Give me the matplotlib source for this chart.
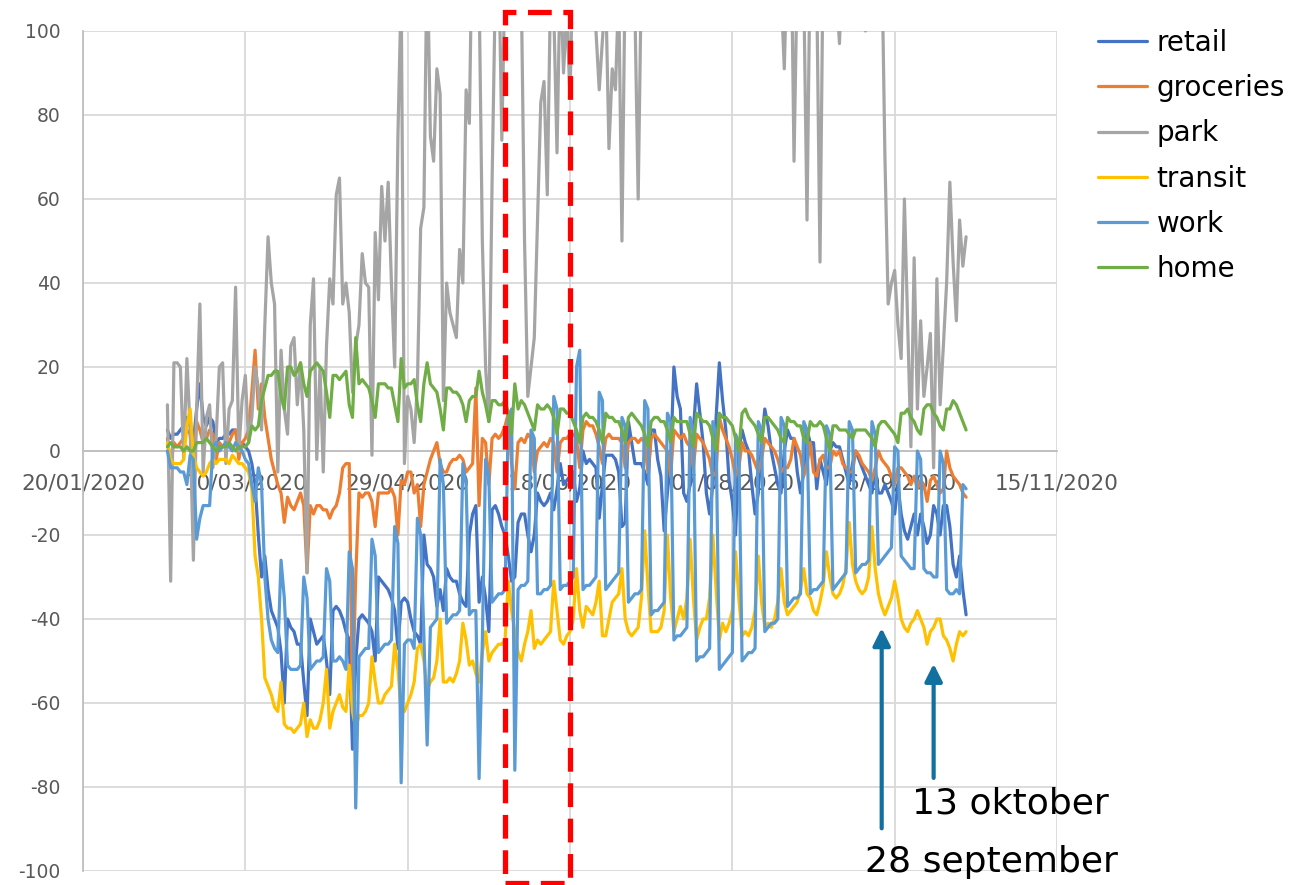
import matplotlib
matplotlib.use("Agg")
import matplotlib.pyplot as plt
import matplotlib.dates as mdates
from matplotlib.patches import Rectangle, FancyArrowPatch
import numpy as np

plt.rcParams["axes.unicode_minus"] = False

# daily values, 15/02/2020 .. 18/10/2020 (first two days, then one row per week Mon..Sun)
dates = np.arange(np.datetime64("2020-02-15"), np.datetime64("2020-10-19")).astype("datetime64[D]").astype(object)

retail = [5, 3,
    4, 4, 5, 6, 8, 6, 2,
    10, 16, 8, 6, 8, 7, 2,
    3, 3, 4, 4, 5, 5, 1,
    2, 1, 0, -3, -8, -20, -30,
    -25, -33, -38, -40, -42, -48, -60,
    -40, -42, -43, -46, -46, -55, -63,
    -40, -43, -46, -45, -44, -50, -58,
    -38, -37, -38, -40, -43, -45, -71,
    -50, -40, -39, -40, -41, -43, -50,
    -30, -31, -32, -33, -35, -38, -47,
    -36, -35, -36, -40, -43, -44, -46,
    -20, -27, -28, -30, -37, -33, -38,
    -28, -30, -31, -31, -34, -36, -37,
    -20, -15, -13, -36, -30, -35, -43,
    -14, -13, -15, -18, -20, -25, -31,
    -30, -17, -15, -15, -20, -24, -20,
    -10, -12, -13, -12, -10, -14, -9,
    -3, -8, -7, -6, -5, -12, -9,
    0, -3, -2, -3, -4, -16, -8,
    -1, -1, -1, -2, -5, -18, -17,
    7, 2, -3, -3, -3, -5, -8,
    5, 5, -2, -6, -19, -10, -2,
    20, 13, 10, -10, -12, -8, 5,
    16, 9, 2, -10, -15, -8, 8,
    21, 12, 5, -7, -12, -20, 0,
    5, 2, 0, -8, -15, -10, 2,
    10, 6, 0, -4, -8, -10, 0,
    5, 3, 3, -5, -10, -5, 5,
    2, 2, -9, -2, -5, -8, 0,
    2, 1, 1, -2, -5, -8, -3,
    0, -2, -4, -6, -8, -10, -5,
    -10, -10, -8, -10, -12, -15, -8,
    -15, -19, -21, -18, -15, -20, -15,
    -18, -22, -20, -13, -15, -20, -13,
    -13, -18, -27, -30, -25, -33, -39]

groceries = [3, -3,
    2, 1, 2, 3, 5, 4, -3,
    7, 5, 2, 3, 5, 4, -2,
    2, 1, 2, 2, 4, 5, -2,
    2, 3, 5, 14, 24, 10, 16,
    8, 3, -2, -5, -8, -10, -17,
    -11, -13, -14, -12, -10, -13, -29,
    -13, -15, -13, -13, -14, -14, -16,
    -14, -13, -10, -4, -3, -3, -60,
    -30, -10, -11, -10, -10, -12, -18,
    -10, -10, -10, -10, -9, -11, -20,
    -7, -8, -5, -5, -10, -8, -18,
    -8, -5, -2, 0, 2, -3, -5,
    -5, -3, -2, -2, -1, -2, -5,
    -4, -3, 15, -13, 3, 2, -8,
    3, 4, 3, 4, 6, 9, -3,
    -9, 2, 3, 2, 4, 3, -5,
    0, 1, 2, 1, 3, 2, -5,
    2, 3, 3, 4, 4, 3, -4,
    5, 7, 6, 6, 4, 1, -3,
    3, 4, 3, 3, 3, 2, -4,
    2, 3, 3, 2, 3, 2, -5,
    3, 4, 3, 2, 1, 0, -6,
    5, 4, 3, 4, 2, 1, -4,
    4, 3, 2, 0, -2, -6, -5,
    8, 5, 3, 1, -2, -6, -4,
    2, 0, 0, -1, -3, -5, -2,
    3, 2, 1, 0, -2, -5, -4,
    -4, -2, 3, 1, -1, -6, -3,
    2, -5, -6, -2, -1, -4, -4,
    0, -1, 0, -3, -4, -5, -5,
    0, -1, -3, -4, -5, -7, -4,
    0, -2, -3, -4, -6, -8, -4,
    -4, -5, -6, -8, -6, -9, -7,
    -8, -12, -7, -6, -8, -10, -9,
    0, -4, -6, -7, -8, -10, -11]

park = [11, -31,
    21, 21, 20, -2, 22, 5, -26,
    10, 35, -5, 8, 11, -4, 3,
    20, 21, -3, 10, 12, 39, 0,
    12, 18, 2, 8, 20, 15, 5,
    30, 51, 40, 35, -5, 24, 10,
    4, 25, 27, 11, 21, 5, -29,
    30, 41, -2, 20, -5, 25, 41,
    35, 61, 65, 35, 40, 33, 14,
    25, 30, 47, 40, 39, -1, 52,
    36, 63, 50, 64, 40, 20, 75,
    110, -3, 13, 10, 2, 16, 53,
    58, 120, 75, 69, 91, 85, 12,
    40, 33, 30, 27, 48, 40, 86,
    78, 130, 120, 110, 50, 20, 7,
    64, 110, 120, 74, 115, 130, 150,
    140, 125, 110, 50, 13, 20, 27,
    55, 83, 88, 61, 110, 105, 71,
    115, 90, 105, 84, 120, 140, 160,
    150, 130, 120, 110, 100, 86, 98,
    110, 72, 91, 86, 110, 50, 115,
    120, 110, 105, 60, 115, 130, 150,
    160, 140, 130, 170, 180, 150, 140,
    130, 150, 170, 190, 160, 140, 120,
    140, 170, 180, 200, 160, 150, 130,
    150, 170, 190, 160, 140, 130, 150,
    170, 190, 160, 140, 130, 150, 140,
    140, 160, 150, 130, 120, 110, 91,
    120, 130, 69, 115, 125, 110, 55,
    120, 130, 110, 45, 120, 140, 130,
    120, 110, 97, 120, 140, 130, 120,
    110, 130, 115, 100, 120, 140, 130,
    110, 120, 70, 35, 40, 43, 30,
    22, 60, 30, 1, 46, 10, 31,
    13, 20, 28, -4, 41, 11, 25,
    40, 64, 45, 31, 55, 44, 51]

transit = [2, -2,
    -3, -3, -3, -2, 6, 10, -1,
    -4, -5, -6, -5, -3, -2, -3,
    -2, -2, -2, -3, -1, -2, -3,
    -3, -4, -5, -9, -25, -30, -40,
    -54, -56, -58, -61, -62, -55, -65,
    -66, -66, -67, -66, -65, -60, -68,
    -64, -66, -66, -64, -60, -52, -66,
    -62, -60, -58, -61, -62, -51, -62,
    -66, -63, -63, -62, -60, -49, -55,
    -60, -60, -58, -57, -56, -46, -52,
    -62, -62, -60, -58, -55, -47, -46,
    -50, -57, -55, -54, -50, -40, -55,
    -55, -54, -55, -53, -50, -41, -45,
    -51, -50, -53, -55, -48, -43, -50,
    -48, -47, -46, -46, -45, -31, -38,
    -43, -48, -50, -46, -43, -38, -47,
    -45, -46, -45, -44, -43, -31, -38,
    -45, -46, -44, -43, -40, -28, -38,
    -42, -37, -38, -39, -36, -31, -44,
    -44, -40, -36, -35, -34, -28, -40,
    -43, -44, -43, -42, -35, -19, -32,
    -43, -43, -43, -42, -38, -20, -35,
    -43, -40, -37, -40, -35, -21, -35,
    -45, -42, -40, -40, -35, -20, -33,
    -45, -41, -43, -41, -38, -24, -35,
    -44, -43, -44, -42, -38, -25, -36,
    -42, -41, -42, -40, -36, -28, -36,
    -39, -38, -37, -36, -33, -28, -34,
    -35, -38, -39, -36, -32, -24, -30,
    -34, -35, -34, -32, -28, -17, -27,
    -31, -33, -34, -33, -30, -18, -28,
    -34, -37, -39, -37, -35, -31, -35,
    -40, -42, -43, -41, -40, -38, -40,
    -42, -46, -43, -42, -40, -40, -44,
    -45, -47, -50, -46, -43, -44, -43]

work = [0, -4,
    -4, -4, -5, -5, -8, -1, -2,
    -21, -16, -13, -13, -13, 1, 2,
    0, 1, 2, 1, 0, 2, 1,
    0, -2, -3, -8, -12, -4, -8,
    -30, -40, -45, -47, -48, -26, -35,
    -51, -52, -52, -52, -51, -30, -35,
    -52, -51, -50, -50, -49, -28, -31,
    -50, -50, -49, -50, -52, -24, -28,
    -85, -49, -48, -47, -47, -21, -25,
    -48, -47, -46, -46, -45, -18, -22,
    -79, -46, -45, -45, -47, -16, -20,
    -44, -70, -42, -41, -40, -2, -8,
    -41, -40, -39, -39, -38, -3, -8,
    -39, -38, -38, -78, -45, -2, -6,
    -36, -35, -34, -34, -33, 8, 10,
    -76, -33, -32, -32, -31, 5, 3,
    -34, -34, -33, -33, -32, 13, 10,
    -33, -32, -32, -31, -30, 20, 24,
    -33, -32, -32, -31, -30, 14, 12,
    -33, -32, -31, -30, -29, 8, 6,
    -36, -35, -34, -34, -33, 12, 10,
    -39, -38, -38, -37, -36, 9, 7,
    -45, -44, -44, -43, -42, 8, 5,
    -50, -49, -49, -48, -47, 7, 4,
    -52, -51, -50, -49, -48, 4, 2,
    -50, -49, -48, -48, -47, 7, 5,
    -43, -42, -41, -41, -40, 8, 6,
    -37, -36, -35, -35, -34, 7, 5,
    -34, -33, -33, -32, -31, 6, 4,
    -33, -32, -31, -30, -29, 7, 5,
    -29, -28, -27, -27, -26, 7, 4,
    -27, -26, -25, -24, -23, 1, 0,
    -25, -26, -27, -28, -28, 0, -2,
    -28, -29, -29, -30, -30, 0, -3,
    -33, -34, -34, -33, -34, -8, -9]

home = [1, 2,
    1, 1, 1, 0, 1, 0, 0,
    2, 2, 2, 3, 2, 1, 0,
    1, 1, 1, 2, 1, 0, 1,
    1, 1, 2, 6, 5, 6, 12,
    15, 18, 18, 19, 19, 13, 10,
    20, 20, 18, 19, 21, 16, 13,
    19, 20, 21, 20, 19, 14, 8,
    18, 18, 17, 18, 19, 11, 8,
    27, 16, 17, 16, 15, 12, 8,
    16, 16, 16, 15, 15, 11, 7,
    22, 15, 16, 16, 17, 11, 7,
    16, 21, 16, 15, 14, 10, 5,
    15, 15, 14, 14, 13, 11, 7,
    12, 13, 13, 19, 14, 11, 7,
    12, 12, 11, 11, 12, 9, 4,
    16, 10, 12, 11, 9, 7, 5,
    11, 10, 10, 11, 10, 8, 4,
    10, 10, 9, 9, 7, 5, 2,
    8, 9, 8, 8, 7, 5, 2,
    9, 8, 8, 7, 7, 5, 2,
    8, 9, 8, 7, 6, 4, 1,
    7, 8, 8, 7, 7, 5, 2,
    8, 7, 7, 7, 7, 4, 1,
    9, 8, 7, 7, 6, 3, 0,
    9, 8, 8, 7, 6, 3, 0,
    9, 10, 8, 7, 6, 4, 2,
    8, 8, 7, 6, 5, 3, 2,
    8, 7, 7, 6, 6, 3, 2,
    7, 6, 6, 7, 6, 3, 0,
    6, 6, 5, 5, 5, 4, 3,
    5, 5, 5, 5, 4, 3, 1,
    6, 7, 7, 6, 5, 4, 2,
    9, 9, 10, 8, 7, 5, 4,
    10, 11, 11, 9, 8, 6, 5,
    10, 10, 12, 11, 9, 7, 5]

series = [("retail", retail, "#4472C4"),
          ("groceries", groceries, "#ED7D31"),
          ("park", park, "#A5A5A5"),
          ("transit", transit, "#FFC000"),
          ("work", work, "#5B9BD5"),
          ("home", home, "#70AD47")]

fig = plt.figure(figsize=(13.02, 8.85), dpi=100)
ax = fig.add_axes([83/1302, 1 - 871/885, (1057 - 83)/1302, (871 - 31)/885])

for name, vals, col in series:
    ax.plot(dates, vals, color=col, lw=2.3, label=name, zorder=3,
            solid_joinstyle="round", solid_capstyle="round")

xmin = np.datetime64("2020-01-20").astype(object)
xmax = np.datetime64("2020-11-15").astype(object)
ax.set_xlim(xmin, xmax)
ax.set_ylim(-100, 100)
ticks = [xmin + np.timedelta64(50 * k, "D").astype(object) for k in range(7)]
ax.set_xticks(ticks)
ax.xaxis.set_major_formatter(mdates.DateFormatter("%d/%m/%Y"))
ax.set_yticks(np.arange(-100, 101, 20))

grid = "#D9D9D9"
ax.grid(True, color=grid, lw=1.3, zorder=0)
for s in ["top", "right"]:
    ax.spines[s].set_visible(False)
ax.spines["bottom"].set_position(("data", 0))
ax.spines["bottom"].set_color("#BFBFBF")
ax.spines["left"].set_color("#BFBFBF")
ax.spines["bottom"].set_linewidth(1.3)
ax.spines["left"].set_linewidth(1.3)
ax.tick_params(axis="x", length=0, pad=16, labelsize=15.5, labelcolor="#595959")
ax.tick_params(axis="y", length=0, pad=16, labelsize=13.5, labelcolor="#595959")

ax.legend(loc="upper left", bbox_to_anchor=(1098/1302, 1 - 29/885),
          bbox_transform=fig.transFigure, frameon=False, borderpad=0,
          borderaxespad=0, fontsize=20, handlelength=1.75, handletextpad=0.35,
          labelspacing=0.62)

# red dashed window
x0 = mdates.date2num(np.datetime64("2020-05-29").astype(object))
x1 = mdates.date2num(np.datetime64("2020-06-18").astype(object))
ax.add_patch(Rectangle((x0, -102.8), x1 - x0, 207.3, fill=False, ec="#FF0000",
                       lw=3.8, ls=(0, (4.5, 2.2)), clip_on=False, zorder=5))

# arrows + notes
arrow_col = "#11709F"
for day, y0, y1 in [("2020-09-22", -90.5, -41.5), ("2020-10-08", -78.5, -50)]:
    xd = mdates.date2num(np.datetime64(day).astype(object))
    ax.add_patch(FancyArrowPatch((xd, y0), (xd, y1), arrowstyle="-|>",
                 mutation_scale=26, color=arrow_col, lw=3, clip_on=False, zorder=6))
fig.text(1010/1302, 1 - 803/885, "13 oktober", ha="center", va="center", fontsize=26)
fig.text(991/1302, 1 - 862/885, "28 september", ha="center", va="center", fontsize=26)

fig.savefig("out.png", dpi=100)
